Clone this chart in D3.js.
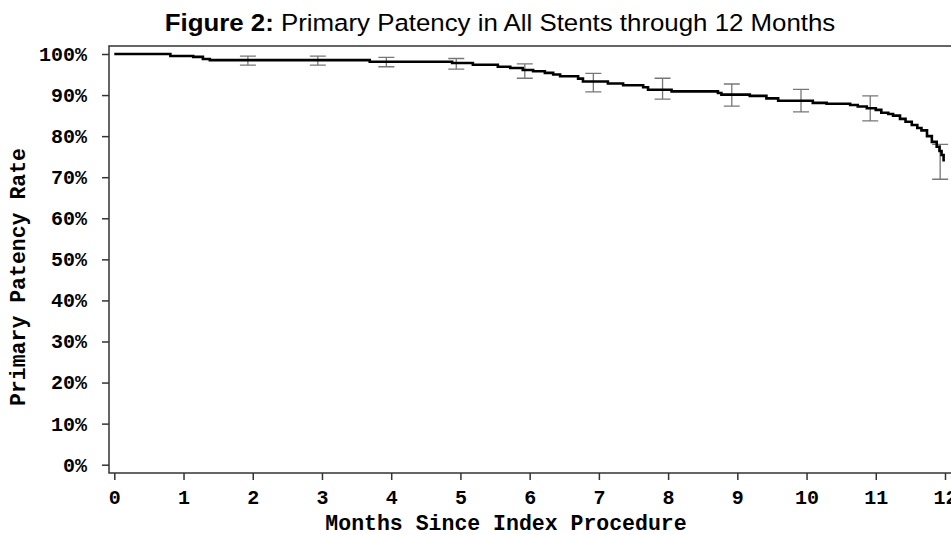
<!DOCTYPE html>
<html>
<head>
<meta charset="utf-8">
<script src="https://cdn.jsdelivr.net/npm/d3@7"></script>
<style>
  body { margin: 0; background: #fff; }
  svg { display: block; }
</style>
</head>
<body>
<div class="chart"></div>
<script>
// KM curve steps (months, % patent after step)
var stepMonths = [0, 0.81, 1.14, 1.28, 1.38, 3.69, 4.88, 5.18, 5.54, 5.72, 5.9, 6.05, 6.22, 6.34, 6.44, 6.7, 6.77,
  7.13, 7.35, 7.64, 7.71, 8.05, 8.72, 8.77, 9.18, 9.42, 9.59, 10.09, 10.29, 10.63, 10.74, 10.87, 11.0,
  11.08, 11.18, 11.25, 11.35, 11.43, 11.52, 11.6, 11.66, 11.74, 11.81, 11.88, 11.92, 11.95, 11.98];
var stepRates = [100, 99.5, 99.3, 98.8, 98.5, 98.1, 97.8, 97.4, 96.9, 96.6, 96.1, 95.8, 95.4, 95.0, 94.6, 94.0, 93.3,
  92.8, 92.4, 91.9, 91.3, 90.9, 90.5, 90.1, 89.8, 89.2, 88.6, 88.1, 87.9, 87.6, 87.2, 86.8, 86.4,
  85.7, 85.4, 85.0, 84.2, 83.5, 82.7, 82.0, 81.4, 80.0, 78.6, 77.4, 76.4, 75.4, 73.8];

// confidence bars at each month
var ciMonths = [1.93, 2.94, 3.93, 4.94, 5.93, 6.92, 7.92, 8.92, 9.92, 10.92, 11.93];
var ciUpper = [99.5, 99.5, 99.2, 98.9, 97.6, 95.3, 94.1, 92.7, 91.4, 89.8, 78.0];
var ciLower = [97.3, 97.3, 96.9, 96.3, 94.1, 90.8, 89.0, 87.3, 85.9, 83.7, 69.5];

var xTicks = [0, 1, 2, 3, 4, 5, 6, 7, 8, 9, 10, 11, 12];
var yTicks = [0, 10, 20, 30, 40, 50, 60, 70, 80, 90, 100];

var svgWidth = 951, svgHeight = 535;
var frame = {left: 109, top: 46, right: 952, bottom: 473};

var svg = d3.select(".chart").append("svg")
  .attr("width", svgWidth)
  .attr("height", svgHeight);

var x = d3.scaleLinear().domain([0, 12]).range([114.3, 945]);
var y = d3.scaleLinear().domain([0, 100]).range([464.7, 54]);

// title (the source is a bit wider than Arial, so stretch it)
var title = svg.append("text")
  .attr("transform", "translate(500,31) scale(1.1,1)")
  .attr("text-anchor", "middle")
  .style("font-family", "'Liberation Sans', Arial, sans-serif")
  .style("font-size", "23.5px")
  .attr("fill", "#000");
title.append("tspan").style("font-weight", "bold").text("Figure 2:");
title.append("tspan").text(" Primary Patency in All Stents through 12 Months");

// frame
svg.append("rect")
  .attr("x", frame.left).attr("y", frame.top)
  .attr("width", frame.right - frame.left)
  .attr("height", frame.bottom - frame.top)
  .attr("fill", "none")
  .attr("stroke", "#333")
  .attr("stroke-width", 1.5);

var mono = "'Liberation Mono', 'Courier New', monospace";

// y axis
var yAxis = svg.append("g")
  .attr("transform", "translate(" + frame.left + ",0)")
  .call(d3.axisLeft(y).tickValues(yTicks).tickSize(7).tickPadding(15)
    .tickFormat(function(d) { return d + "%"; }));
yAxis.select(".domain").remove();
yAxis.selectAll(".tick line").attr("stroke", "#333").attr("stroke-width", 1.5);
yAxis.selectAll(".tick text")
  .style("font-family", mono).style("font-size", "20px").style("font-weight", "bold")
  .attr("fill", "#000");

// x axis
var xAxis = svg.append("g")
  .attr("transform", "translate(0," + frame.bottom + ")")
  .call(d3.axisBottom(x).tickValues(xTicks).tickSize(7).tickPadding(10));
xAxis.select(".domain").remove();
xAxis.selectAll(".tick line").attr("stroke", "#333").attr("stroke-width", 1.5);
xAxis.selectAll(".tick text")
  .style("font-family", mono).style("font-size", "20px").style("font-weight", "bold")
  .attr("fill", "#000");

// axis titles
svg.append("text")
  .attr("x", 506).attr("y", 530)
  .attr("text-anchor", "middle")
  .style("font-family", mono).style("font-size", "21.5px").style("font-weight", "bold")
  .text("Months Since Index Procedure");

svg.append("text")
  .attr("transform", "translate(25,277) rotate(-90)")
  .attr("text-anchor", "middle")
  .style("font-family", mono).style("font-size", "21.5px").style("font-weight", "bold")
  .text("Primary Patency Rate");

// confidence bars
var ci = ciMonths.map(function(m, i) { return {m: m, hi: ciUpper[i], lo: ciLower[i]}; });
var bars = svg.append("g").attr("stroke", "#777").attr("stroke-width", 1.3).attr("fill", "none");
bars.selectAll(".ci").data(ci).enter().append("path")
  .attr("class", "ci")
  .attr("d", function(d) {
    var cx = x(d.m), w = 8;
    return "M" + (cx - w) + "," + y(d.hi) + "H" + (cx + w) +
      "M" + cx + "," + y(d.hi) + "V" + y(d.lo) +
      "M" + (cx - w) + "," + y(d.lo) + "H" + (cx + w);
  });

// survival curve
var pts = stepMonths.map(function(m, i) { return [m, stepRates[i]]; });
var line = d3.line()
  .x(function(d) { return x(d[0]); })
  .y(function(d) { return y(d[1]); })
  .curve(d3.curveStepAfter);

svg.append("path")
  .datum(pts)
  .attr("d", line)
  .attr("fill", "none")
  .attr("stroke", "#000")
  .attr("stroke-width", 2.6);
</script>
</body>
</html>
